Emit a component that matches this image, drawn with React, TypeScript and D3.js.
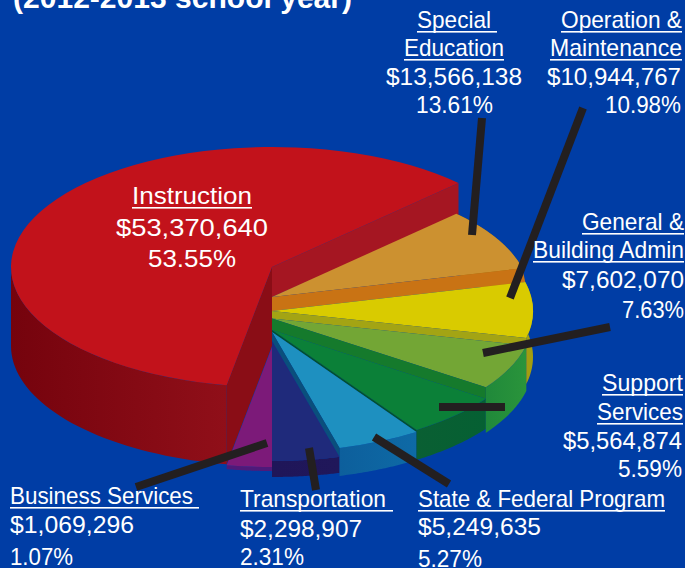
import React from "react";
import * as d3 from "d3";

// ---- data as printed ----
const categories = ["Special Education", "Operation & Maintenance", "General & Building Admin", "Support Services", "State & Federal Program", "Transportation", "Business Services", "Instruction"];
const amounts = ["$13,566,138", "$10,944,767", "$7,602,070", "$5,564,874", "$5,249,635", "$2,298,907", "$1,069,296", "$53,370,640"];
const percents = ["13.61%", "10.98%", "7.63%", "5.59%", "5.27%", "2.31%", "1.07%", "53.55%"];
// the sweep of each wedge as the picture draws it (degrees; the artwork is not proportional)
const drawnSweeps = [30.4, 27, 22, 21.4, 18.6, 15, 10, 215.6];

// ---- layout ----
const W = 685, H = 568;
const CX = 272, RX = 261, RY = 120;
const START_DEG = 45.6;
const topCy = [297, 311, 318.5, 330, 332, 341, 347, 267];
const baseCy = [357, 357, 364, 360, 360, 357, 351, 346];
const radiusX = [258, RX, RX, RX, RX, RX, RX, RX];
const radiusY = [119, RY, RY, RY, RY, RY, RY, RY];
const topColors = ["#cc9130", "#d9cb00", "#73a635", "#0b8038", "#1e90c0", "#1f2a7b", "#7c1a79", "#c2121b"];
const wallColors = [["#a0700f", "#a0700f"], ["#a39e10", "#a39e10"], ["#2a943b", "#20893a"], ["#056033", "#0a5f33"], ["#0e6aa6", "#0d5f9c"], ["#1f1659", "#20175a"], ["#4e1a7a", "#4e1a7a"], ["#75030d", "#900f19"]];
const bandColors = ["#c97314", "#a3a414", "#157a2c", "#03532c", "#0a4f7c", "#1f2a7b", "#8a0d16"];

type L = { t: string; x0: number; x1: number; y: number; u?: number };
const labelLines: L[] = [
  { t: categories[7], x0: 132, x1: 252, y: 204, u: 252 },
  { t: amounts[7], x0: 116, x1: 268, y: 236 },
  { t: percents[7], x0: 148, x1: 236, y: 267 },
  { t: "Special", x0: 417, x1: 491, y: 28, u: 497 },
  { t: "Education", x0: 404, x1: 504, y: 56, u: 504 },
  { t: amounts[0], x0: 386, x1: 522, y: 85 },
  { t: percents[0], x0: 416, x1: 493, y: 113 },
  { t: "Operation &", x0: 561, x1: 682, y: 28, u: 682 },
  { t: "Maintenance", x0: 550, x1: 682, y: 56, u: 682 },
  { t: amounts[1], x0: 547, x1: 681, y: 85 },
  { t: percents[1], x0: 605, x1: 681, y: 113 },
  { t: "General &", x0: 582, x1: 684, y: 230, u: 684 },
  { t: "Building Admin", x0: 533, x1: 684, y: 258, u: 684 },
  { t: amounts[2], x0: 562, x1: 684, y: 288 },
  { t: percents[2], x0: 622, x1: 684, y: 318 },
  { t: "Support", x0: 602, x1: 683, y: 391, u: 683 },
  { t: "Services", x0: 597, x1: 683, y: 420, u: 683 },
  { t: amounts[3], x0: 563, x1: 682, y: 449 },
  { t: percents[3], x0: 618, x1: 682, y: 477 },
  { t: categories[6], x0: 10, x1: 193, y: 504, u: 199 },
  { t: amounts[6], x0: 10, x1: 134, y: 533 },
  { t: percents[6], x0: 10, x1: 73, y: 565 },
  { t: categories[5], x0: 240, x1: 386, y: 507, u: 393 },
  { t: amounts[5], x0: 240, x1: 362, y: 537 },
  { t: percents[5], x0: 240, x1: 304, y: 565 },
  { t: categories[4], x0: 418, x1: 665, y: 507, u: 665 },
  { t: amounts[4], x0: 418, x1: 541, y: 535 },
  { t: percents[4], x0: 418, x1: 482, y: 567 },
];
const leaders = [
  [482, 118, 472, 235], [583, 108, 510, 298], [610, 327, 483, 353], [439, 407, 505, 407],
  [374, 437, 449, 484], [309, 448, 316, 490], [267, 443, 136, 487],
];

const FONT = "'Liberation Sans', Arial, sans-serif";
const ctx = document.createElement("canvas").getContext("2d")!;
function sizeFor(l: L) {
  ctx.font = `24px ${FONT}`;
  const fit = (24 * (l.x1 - l.x0)) / ctx.measureText(l.t).width;
  // lines that reach the right edge lean towards their fitted size; the others stay at 24
  return l.x1 > 600 ? Math.max(23.4, Math.min(fit, 24)) : 24;
}

const wedges = d3.pie<number>().sort(null).value((d) => d)
  .startAngle((START_DEG * Math.PI) / 180)
  .endAngle(((START_DEG + 360) * Math.PI) / 180)(drawnSweeps);

const pt = (i: number, a: number, cy: number): [number, number] => [
  CX + radiusX[i] * Math.sin(a),
  cy - radiusY[i] * Math.cos(a),
];
const line = d3.line().curve(d3.curveLinear);

function wallPath(i: number) {
  const a0 = wedges[i].startAngle;
  const a1 = Math.min(wedges[i].endAngle, (3 * Math.PI) / 2);
  const as = d3.range(0, 41).map((k) => a0 + ((a1 - a0) * k) / 40);
  return line([...as.map((a) => pt(i, a, topCy[i])), ...as.slice().reverse().map((a) => pt(i, a, baseCy[i]))]) + "Z";
}
const topArc = (i: number) =>
  d3.arc()({ innerRadius: 0, outerRadius: radiusX[i], startAngle: wedges[i].startAngle, endAngle: wedges[i].endAngle }) as string;

export default function App() {
  const red = 7;
  const rA0 = wedges[red].startAngle, rA1 = wedges[red].endAngle;
  const redEnd = pt(red, rA1, topCy[red]);
  const redFront = line([[CX, topCy[red]], pt(red, rA0, topCy[red]), pt(red, rA0, baseCy[red]), [CX, baseCy[red]]]) + "Z";
  const redBack = line([[CX, topCy[red]], redEnd, [redEnd[0], redEnd[1] + 33], [CX, topCy[0]]]) + "Z";
  return (
    <svg width={W} height={H} viewBox={`0 0 ${W} ${H}`} style={{ position: "absolute", left: 0, top: 0, background: "#003da5", fontFamily: FONT }}>
      <defs>
        {wallColors.map((c, i) => (
          <linearGradient key={i} id={`w${i}`} x1="0" x2="1" y1="0" y2="0">
            <stop offset="0" stopColor={i < 5 ? c[1] : c[0]} />
            <stop offset="1" stopColor={i < 5 ? c[0] : c[1]} />
          </linearGradient>
        ))}
      </defs>
      <text x={13} y={8} fill="#fff" fontWeight="bold" fontSize={30} textLength={339} lengthAdjust="spacingAndGlyphs">(2012-2013 school year)</text>

      {wedges.map((_, i) => <path key={i} d={wallPath(i)} fill={`url(#w${i})`} />).reverse()}
      <path d={redFront} fill={bandColors[6]} />
      <path d={redBack} fill="#a51622" />

      {wedges.slice(0, 7).map((w, i) => (
        <g key={i}>
          <path d={topArc(i)} transform={`translate(${CX},${topCy[i]}) scale(1,${radiusY[i] / radiusX[i]})`} fill={topColors[i]} />
          {i < 6 && (
            <path d={line([[CX, topCy[i]], pt(i, w.endAngle, topCy[i]), pt(i + 1, w.endAngle, topCy[i + 1]), [CX, topCy[i + 1]]]) + "Z"} fill={bandColors[i]} />
          )}
        </g>
      ))}
      <path d={topArc(red)} transform={`translate(${CX},${topCy[red]}) scale(1,${RY / RX})`} fill={topColors[red]} />

      {leaders.map((l, i) => <line key={i} x1={l[0]} y1={l[1]} x2={l[2]} y2={l[3]} stroke="#231f20" strokeWidth={8} />)}

      {labelLines.map((l, i) => (
        <g key={i} fill="#fff">
          <text x={l.x0} y={l.y} fontSize={sizeFor(l)} textLength={l.x1 - l.x0} lengthAdjust="spacingAndGlyphs">{l.t}</text>
          {l.u && <rect x={l.x0} y={l.y + 3} width={l.u - l.x0} height={1.6} />}
        </g>
      ))}
    </svg>
  );
}
